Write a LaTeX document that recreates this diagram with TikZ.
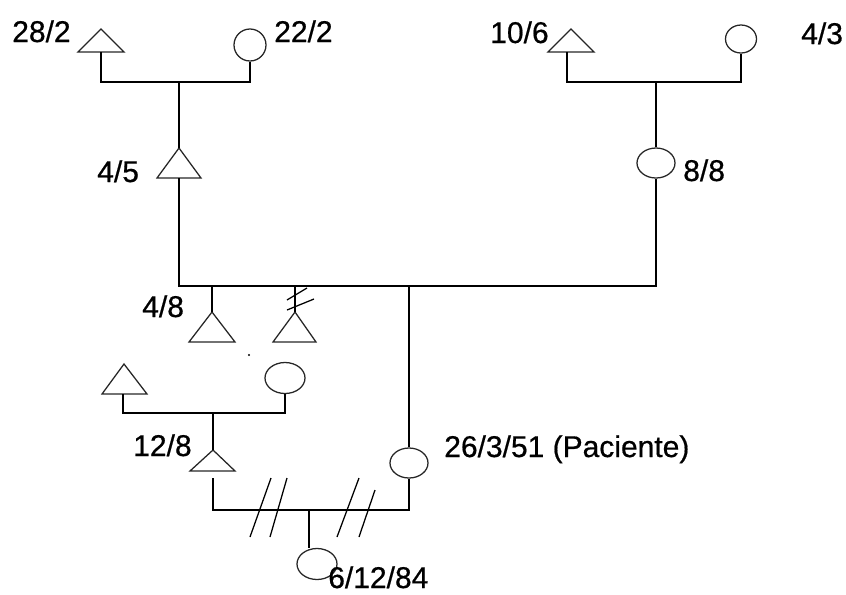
\documentclass[tikz,border=0pt]{standalone}
\usepackage{fontspec}
\setmainfont{Liberation Sans}
\newfontfamily\lblfont[FakeBold=0.6]{Liberation Sans}
\usetikzlibrary{shapes.geometric}
\begin{document}
\begin{tikzpicture}[x=0.75pt,y=-0.75pt,
  ln/.style={line width=1.15pt, black},
  shp/.style={line width=0.95pt, draw=black!85},
  fem/.style={ellipse, shp, inner sep=0pt},
  lbl/.style={anchor=base west, inner sep=0pt, font=\lblfont\fontsize{22.5}{27}\selectfont}]
\useasboundingbox (0,0) rectangle (846,594);
% ---------- triangles (apex coordinate, base coordinate) ----------
\coordinate (t1) at (101,29);  \coordinate (t1b) at (101,52);
\draw[shp] (t1) -- ++(23,23) -- ++(-46,0) -- cycle;
\coordinate (t2) at (179,148); \coordinate (t2b) at (179,178);
\draw[shp] (t2) -- ++(22,30) -- ++(-44,0) -- cycle;
\coordinate (t3) at (571,29);  \coordinate (t3b) at (567,52);
\draw[shp] (t3) -- ++(23,23) -- ++(-46,0) -- cycle;
\coordinate (t4) at (212,312); \coordinate (t4b) at (212,342);
\draw[shp] (t4) -- ++(23,30) -- ++(-46,0) -- cycle;
\coordinate (t5) at (295,312); \coordinate (t5b) at (295,342);
\draw[shp] (t5) -- ++(21,30) -- ++(-43,0) -- cycle;
\coordinate (t6) at (124,364); \coordinate (t6b) at (123,394);
\draw[shp] (t6) -- ++(23,30) -- ++(-45,0) -- cycle;
\coordinate (t7) at (213,450); \coordinate (t7b) at (213,478);
\draw[shp] (t7) -- ++(22,21) -- ++(-45,0) -- cycle;
% ---------- circles / ellipses ----------
\node[fem, minimum width=24pt, minimum height=24pt] (c1) at (250,45) {};
\node[fem, minimum width=23.25pt, minimum height=21pt] (c2) at (741,39) {};
\node[fem, minimum width=28.5pt, minimum height=22.5pt] (e3) at (656,163) {};
\node[fem, minimum width=28.5pt, minimum height=22.5pt] (pat) at (409,463) {};
\node[fem, minimum width=30pt, minimum height=23.25pt] (e7) at (285,378) {};
\node[fem, minimum width=30pt, minimum height=23.25pt] (e8) at (317,564) {};
% ---------- junction coordinates ----------
\coordinate (m1) at (179,82);
\coordinate (m2) at (656,82);
\coordinate (ml) at (179,286);
\coordinate (mr) at (656,286);
\coordinate (m3) at (213,413);
\coordinate (m4) at (309,510);
% ---------- connectors ----------
\draw[ln] (t1b) |- (m1) -| (c1.south);
\draw[ln] (m1) -- (t2);
\draw[ln] (t3b) |- (m2) -| (c2.south);
\draw[ln] (m2) -- (e3.north);
\draw[ln] (t2b) -- (ml) -- (mr) -- (e3.south);
\draw[ln] (t4 |- ml) -- (t4);
\draw[ln] (t5 |- ml) -- (t5);
\draw[ln] (pat.north |- ml) -- (pat.north);
\draw[ln] (t6b) |- (m3) -| (e7.south);
\draw[ln] (m3) -- (t7);
\draw[ln] (t7b) |- (m4) -| (pat.south);
\draw[ln] (m4) -- (e8.north -| m4);
% ---------- slashes ----------
\coordinate (s1a) at (287,300); \coordinate (s1b) at (307,288);
\coordinate (s2a) at (287,310); \coordinate (s2b) at (314,299);
\draw[line width=0.95pt] (s1a) -- (s1b);
\draw[line width=0.95pt] (s2a) -- (s2b);
\coordinate (d1a) at (250,537); \coordinate (d1b) at (271,478);
\coordinate (d2a) at (270,537); \coordinate (d2b) at (287,478);
\coordinate (d3a) at (337,537); \coordinate (d3b) at (359,478);
\coordinate (d4a) at (359,537); \coordinate (d4b) at (375,490);
\draw[line width=0.95pt] (d1a) -- (d1b);
\draw[line width=0.95pt] (d2a) -- (d2b);
\draw[line width=0.95pt] (d3a) -- (d3b);
\draw[line width=0.95pt] (d4a) -- (d4b);
% small dot
\fill (249,355) circle (0.8pt);
% ---------- labels ----------
\node[lbl] (l1) at (12,42) {28/2};
\node[lbl] (l2) at (274,42) {22/2};
\node[lbl] (l3) at (97,182) {4/5};
\node[lbl] (l4) at (490,43) {10/6};
\node[lbl] (l5) at (801,44) {4/3};
\node[lbl] (l6) at (683,181) {8/8};
\node[lbl] (l7) at (142,317) {4/8};
\node[lbl] (l8) at (133,456) {12/8};
\node[lbl] (l9) at (444,457) {26/3/51 (Paciente)};
\node[lbl] (l10) at (328,588) {6/12/84};
\end{tikzpicture}
\end{document}
